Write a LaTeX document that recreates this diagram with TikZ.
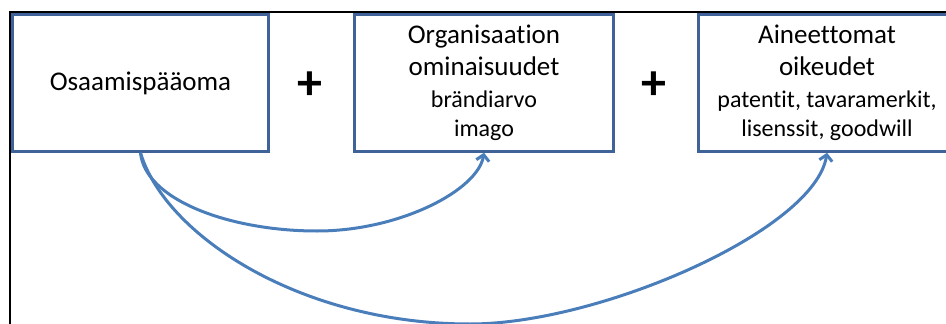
\documentclass[tikz,border=0pt]{standalone}
\usepackage{fontspec}
\setmainfont{Carlito}[Ligatures=CommonOff]
\usetikzlibrary{arrows.meta}
\definecolor{boxline}{HTML}{3F6398}
\definecolor{linkblue}{HTML}{4A7EBB}
\newcommand\smallline{\fontsize{24}{28}\selectfont}
\begin{document}
\begin{tikzpicture}[x=1pt,y=-1pt,
  card/.style={draw=boxline, line width=2.5pt, fill=white, inner sep=0pt,
    minimum height=137pt, align=center, font=\fontsize{27}{32}\selectfont},
  plussign/.style={font=\fontsize{50}{50}\selectfont\bfseries, inner sep=0pt},
  link/.style={draw=linkblue, line width=3pt,
    -{Straight Barb[length=6pt,width=13pt]}}]
\useasboundingbox (0,0) rectangle (946,324);
\clip (0,0) rectangle (946,324);
% outer frame (top and left edges)
\draw[line width=1.5pt] (10,330) -- (10,12) -- (950,12);
% the three component boxes
\node[card, minimum width=256pt] (cap) at (140.5,83) {Osaamispääoma};
\node[card, minimum width=259pt] (org) at (484,83)
  {Organisaation\\ominaisuudet\\[0pt]{\smallline brändiarvo}\\[-3pt]{\smallline imago}};
\node[card, minimum width=257pt] (ipr) at (827,83)
  {Aineettomat\\oikeudet\\[0pt]{\smallline patentit, tavaramerkit,}\\[-3pt]{\smallline lisenssit, goodwill}};
% plus signs between boxes
\node[plussign] (p1) at (310,86) {+};
\node[plussign] (p2) at (654,86) {+};
% curved links from the first box
\draw[link] (cap.south) .. controls (145,200) and (230,231) .. (317,231)
  .. controls (400,231) and (478,190) .. (org.south);
\draw[link] (cap.south) .. controls (165,235) and (300,324) .. (470,324)
  .. controls (600,324) and (815,230) .. (ipr.south);
\end{tikzpicture}
\end{document}
